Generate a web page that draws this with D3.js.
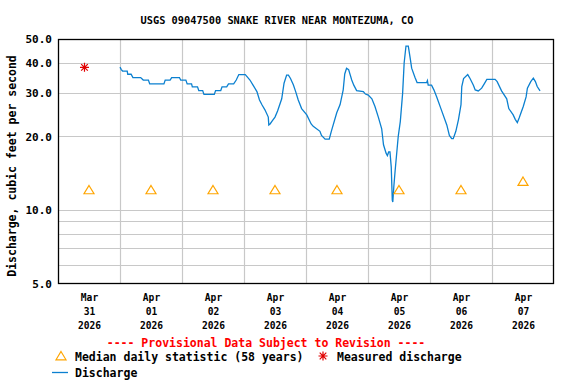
<!DOCTYPE html>
<html>
<head>
<meta charset="utf-8">
<script src="https://cdn.jsdelivr.net/npm/d3@7"></script>
<style>
  body { margin: 0; background: #fff; }
  text { font-family: "DejaVu Sans Mono", monospace; font-weight: bold; }
</style>
</head>
<body>
<div id="chart"></div>
<script>
// Discharge, hours after Apr 01 2026 00:00 and cfs
const dischargeHours = [0, 0.5, 1, 2.8, 3, 4.3, 5, 8, 9, 11, 11.5, 17, 17.5, 19.4, 20, 23, 23.5, 25.5, 26, 27.7,
    28, 30, 30.5, 32, 32.5, 36.5, 37, 39, 39.5, 41.3, 42, 44, 45, 46, 48.5, 49.5, 50.3, 51.5, 53, 54,
    55, 56.1, 57.4, 57.6, 58.1, 59, 60, 61, 62.6, 63.5, 64.5, 65.2, 66, 67.1, 68, 69, 70.3, 72.3, 74, 74.8,
    77.4, 78, 79.4, 81, 81.8, 83.9, 85.2, 86.4, 87, 87.7, 88.5, 89.7, 90.5, 91.6, 94.2, 95, 96.1, 97.5, 98.7, 100,
    101.3, 102, 103, 103.5, 104, 104.5, 105, 105.4, 105.6, 106, 106.5, 107.2, 107.7, 108.5, 109.4, 110, 110.7, 111.6, 112.3, 112.9,
    114.2, 115, 116.1, 118.7, 119, 119.3, 120.6, 121.5, 122.6, 124.5, 126.5, 127.5, 128.4, 129, 130, 131, 132, 132.3, 133, 134.6,
    135.5, 136.8, 137.5, 138.7, 140, 141, 142, 145.2, 146, 147.7, 149.7, 150.5, 152.2, 153, 153.8, 154.5, 156.1, 157.2, 157.7, 159,
    160, 160.8, 161.5, 162.6];
const dischargeValues = [38.4, 37.5, 37.0, 37.0, 35.9, 35.9, 34.8, 34.8, 34.0, 34.0, 32.8, 32.8, 34.0, 34.0, 34.8, 34.8, 34.0, 34.0, 32.8, 32.8,
    31.9, 31.9, 30.8, 30.8, 29.7, 29.7, 30.8, 30.8, 31.9, 31.9, 32.8, 32.8, 34.0, 35.8, 35.8, 34.8, 34.0, 32.4, 30.5, 28.2,
    26.9, 25.7, 24.0, 22.3, 22.5, 23.2, 24.0, 25.4, 28.5, 33.0, 35.6, 35.6, 34.5, 32.5, 30.5, 28.2, 26.0, 24.5, 22.5, 22.0,
    21.0, 20.2, 19.5, 19.5, 21.0, 25.0, 27.0, 31.0, 36.0, 38.0, 37.5, 34.0, 32.4, 30.8, 30.5, 29.8, 29.5, 28.5, 26.5, 24.0,
    21.5, 18.5, 17.1, 16.7, 17.3, 17.3, 15.0, 11.0, 10.8, 12.5, 14.5, 17.5, 20.0, 23.0, 30.0, 40.0, 46.8, 46.8, 42.0, 38.0,
    34.8, 33.2, 33.2, 33.2, 33.8, 32.4, 32.4, 31.0, 29.0, 25.5, 22.3, 20.2, 19.6, 19.6, 21.0, 23.4, 27.0, 32.0, 34.5, 35.8,
    34.5, 32.4, 31.0, 30.7, 31.5, 32.8, 34.2, 34.2, 33.5, 30.7, 28.5, 26.0, 24.5, 23.5, 22.8, 23.8, 26.5, 29.0, 31.5, 33.5,
    34.6, 33.5, 32.0, 30.7];

// Median daily statistic (58 years), one per day at noon
const medianDays = ["2026-03-31", "2026-04-01", "2026-04-02", "2026-04-03", "2026-04-04", "2026-04-05", "2026-04-06", "2026-04-07"];
const medianValues = [12.1, 12.1, 12.1, 12.1, 12.1, 12.1, 12.1, 13.1];

// Measured discharge
const measuredTimes = ["2026-03-31T10:15:00Z"];
const measuredValues = [38.3];

// Axis ticks
const yTickValues = [5, 10, 20, 30, 40, 50];
const yGridValues = [6, 7, 8, 9, 10, 20, 30, 40];
const xTickMonths = ["Mar", "Apr", "Apr", "Apr", "Apr", "Apr", "Apr", "Apr"];
const xTickDays = ["31", "01", "02", "03", "04", "05", "06", "07"];
const xTickYears = ["2026", "2026", "2026", "2026", "2026", "2026", "2026", "2026"];

const width = 576;
const height = 384;
const margin = { top: 39, right: 22, bottom: 100, left: 58 };

const svg = d3.select("#chart")
    .append("svg")
    .attr("width", width)
    .attr("height", height);

svg.append("rect").attr("width", width).attr("height", height).attr("fill", "#fff");

// Scales
const start = new Date(Date.UTC(2026, 2, 31));
const end = new Date(Date.UTC(2026, 3, 8));
const x = d3.scaleUtc()
    .domain([start, end])
    .range([margin.left, width - margin.right]);

const y = d3.scaleLog()
    .domain([5, 50])
    .range([height - margin.bottom, margin.top]);

const hourMs = 3600 * 1000;
const apr1 = Date.UTC(2026, 3, 1);
const discharge = dischargeHours.map((h, i) => ({ t: new Date(apr1 + h * hourMs), v: dischargeValues[i] }));
const medians = medianDays.map((d, i) => ({ t: new Date(d + "T12:00:00Z"), v: medianValues[i] }));
const measured = measuredTimes.map((d, i) => ({ t: new Date(d), v: measuredValues[i] }));

// Grid
svg.append("g")
    .selectAll("line")
    .data(yGridValues)
    .enter()
    .append("line")
    .attr("x1", margin.left).attr("x2", width - margin.right)
    .attr("y1", d => Math.round(y(d)) + 0.5).attr("y2", d => Math.round(y(d)) + 0.5)
    .attr("stroke", "#c8c8c8")
    .attr("stroke-width", 1.2);

svg.append("g")
    .selectAll("line")
    .data(d3.utcDay.range(d3.utcDay.offset(start, 1), end))
    .enter()
    .append("line")
    .attr("x1", d => Math.round(x(d)) + 0.5).attr("x2", d => Math.round(x(d)) + 0.5)
    .attr("y1", margin.top).attr("y2", height - margin.bottom)
    .attr("stroke", "#c8c8c8")
    .attr("stroke-width", 1.2);

// Frame
svg.append("rect")
    .attr("x", margin.left + 0.5)
    .attr("y", margin.top + 0.5)
    .attr("width", width - margin.left - margin.right - 1)
    .attr("height", height - margin.top - margin.bottom - 1)
    .attr("fill", "none")
    .attr("stroke", "#000")
    .attr("stroke-width", 1.3);

// Axes
const yAxis = svg.append("g")
    .attr("transform", `translate(${margin.left},0)`)
    .call(d3.axisLeft(y).tickValues(yTickValues).tickFormat(d3.format(".1f")).tickSize(0).tickPadding(6));
yAxis.select(".domain").remove();
yAxis.selectAll("text")
    .style("font-size", "11px")
    .attr("fill", "#000");

const xAxis = svg.append("g")
    .attr("transform", `translate(0,${height - margin.bottom})`)
    .call(d3.axisBottom(x).tickValues(medians.map(d => d.t)).tickSize(0).tickFormat(""));
xAxis.select(".domain").remove();
xAxis.selectAll(".tick").each(function (d, i) {
    const t = d3.select(this).select("text")
        .attr("y", 0)
        .attr("dy", null)
        .style("font-size", "9.6px")
        .attr("fill", "#000");
    [xTickMonths[i], xTickDays[i], xTickYears[i]].forEach((s, k) => {
        t.append("tspan").attr("x", 0).attr("y", 17 + k * 14).text(s);
    });
});

// Discharge line
svg.append("path")
    .datum(discharge)
    .attr("fill", "none")
    .attr("stroke", "#0b80d0")
    .attr("stroke-width", 1.3)
    .attr("d", d3.line().x(d => x(d.t)).y(d => y(d.v)));

// Median triangles
const triangle = "M0,-4.5L5,3.8L-5,3.8Z";
svg.selectAll(".median")
    .data(medians)
    .enter()
    .append("path")
    .attr("class", "median")
    .attr("transform", d => `translate(${x(d.t)},${y(d.v)})`)
    .attr("d", triangle)
    .attr("fill", "none")
    .attr("stroke", "#ffa500")
    .attr("stroke-width", 1.2);

// Measured asterisk
const asterisk = "M-4.5,0H4.5M0,-4.5V4.5M-3.3,-3.3L3.3,3.3M-3.3,3.3L3.3,-3.3";
svg.selectAll(".measured")
    .data(measured)
    .enter()
    .append("path")
    .attr("class", "measured")
    .attr("transform", d => `translate(${x(d.t)},${y(d.v)})`)
    .attr("d", asterisk)
    .attr("stroke", "#e00000")
    .attr("stroke-width", 1.2);

// Titles
svg.append("text")
    .attr("x", 277)
    .attr("y", 20)
    .attr("text-anchor", "middle")
    .attr("dominant-baseline", "central")
    .style("font-size", "10.3px")
    .text("USGS 09047500 SNAKE RIVER NEAR MONTEZUMA, CO");

svg.append("text")
    .attr("text-anchor", "middle")
    .attr("dominant-baseline", "central")
    .attr("transform", "translate(12,166) rotate(-90)")
    .style("font-size", "11.5px")
    .text("Discharge, cubic feet per second");

// Legend
svg.append("text")
    .attr("x", 266)
    .attr("y", 343)
    .attr("text-anchor", "middle")
    .attr("dominant-baseline", "central")
    .attr("fill", "#ff0000")
    .style("font-size", "11.5px")
    .text("---- Provisional Data Subject to Revision ----");

svg.append("path")
    .attr("transform", "translate(61,356)")
    .attr("d", triangle)
    .attr("fill", "none")
    .attr("stroke", "#ffa500")
    .attr("stroke-width", 1.2);
svg.append("text")
    .attr("x", 75).attr("y", 357)
    .attr("dominant-baseline", "central")
    .style("font-size", "11.5px")
    .text("Median daily statistic (58 years)");

svg.append("path")
    .attr("transform", "translate(323,356)")
    .attr("d", asterisk)
    .attr("stroke", "#e00000")
    .attr("stroke-width", 1.2);
svg.append("text")
    .attr("x", 337).attr("y", 357)
    .attr("dominant-baseline", "central")
    .style("font-size", "11.5px")
    .text("Measured discharge");

svg.append("line")
    .attr("x1", 52).attr("x2", 68)
    .attr("y1", 372.5).attr("y2", 372.5)
    .attr("stroke", "#0b80d0")
    .attr("stroke-width", 1.3);
svg.append("text")
    .attr("x", 75).attr("y", 373)
    .attr("dominant-baseline", "central")
    .style("font-size", "11.5px")
    .text("Discharge");
</script>
</body>
</html>
